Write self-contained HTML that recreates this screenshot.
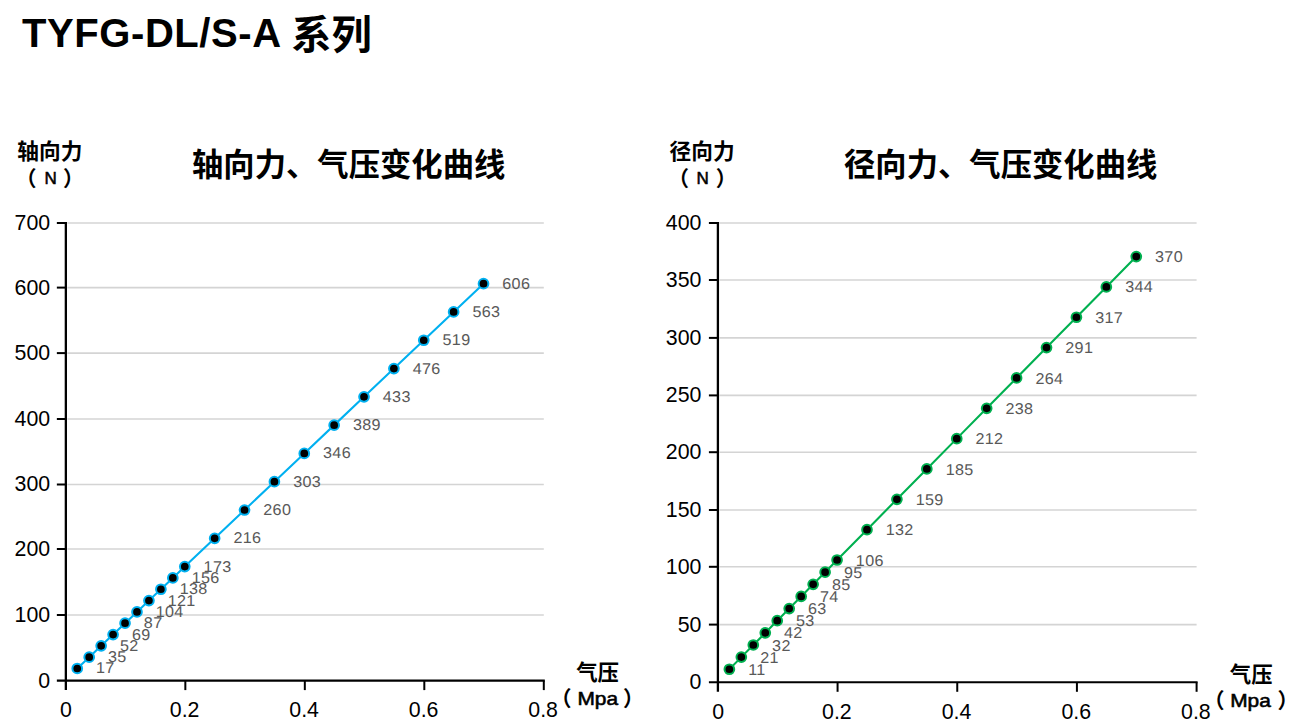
<!DOCTYPE html>
<html lang="zh-CN">
<head>
<meta charset="utf-8">
<title>TYFG-DL/S-A 系列</title>
<style>
html,body{margin:0;padding:0;background:#fff;}
body{width:1305px;height:727px;overflow:hidden;font-family:"Liberation Sans", "Noto Sans CJK SC", sans-serif;}
svg{display:block;}
svg text{font-family:"Liberation Sans", "Noto Sans CJK SC", sans-serif;}
.h1{font-size:40px;font-weight:bold;fill:#000;}
.ct{font-size:31.34px;font-weight:bold;fill:#000;}
.at{font-size:21px;font-weight:bold;fill:#000;}
.au{font-size:17px;font-weight:normal;fill:#000;stroke:#000;stroke-width:0.55px;}
.au2{font-size:17.8px;font-weight:normal;fill:#000;stroke:#000;stroke-width:0.55px;}
.tk{font-size:21.33px;fill:#000;}
.dl{font-size:15.6px;fill:#595959;letter-spacing:0.3px;text-rendering:geometricPrecision;}
</style>
</head>
<body>
<svg width="1305" height="727" viewBox="0 0 1305 727">
<rect width="1305" height="727" fill="#fff"/>

<text class="h1" x="22" y="46.6"><tspan letter-spacing="0.58">TYFG-DL/S-A</tspan> <tspan x="291.2" dy="2.2" font-size="40.2">系列</tspan></text>
<g id="chart-left">
<text class="ct" x="192" y="176">轴向力、气压变化曲线</text>
<text class="at" style="font-size:21.7px" x="17.3" y="159.2">轴向力</text>
<text class="at" y="186.3"><tspan x="15.6">（</tspan><tspan class="au" x="44.6" dy="-2.1">N</tspan><tspan x="62.9" dy="2.1">）</tspan></text>
<line x1="67.35" y1="615.00" x2="543.80" y2="615.00" stroke="#d4d4d4" stroke-width="1.6"/>
<line x1="67.35" y1="549.00" x2="543.80" y2="549.00" stroke="#d4d4d4" stroke-width="1.6"/>
<line x1="67.35" y1="484.50" x2="543.80" y2="484.50" stroke="#d4d4d4" stroke-width="1.6"/>
<line x1="67.35" y1="419.00" x2="543.80" y2="419.00" stroke="#d4d4d4" stroke-width="1.6"/>
<line x1="67.35" y1="353.10" x2="543.80" y2="353.10" stroke="#d4d4d4" stroke-width="1.6"/>
<line x1="67.35" y1="287.60" x2="543.80" y2="287.60" stroke="#d4d4d4" stroke-width="1.6"/>
<line x1="67.35" y1="223.00" x2="543.80" y2="223.00" stroke="#d4d4d4" stroke-width="1.6"/>
<polyline fill="none" stroke="#00b0f0" stroke-width="2.1" stroke-linejoin="round" points="77.25,668.48 89.20,657.16 101.15,645.84 113.09,634.53 125.04,623.21 136.99,611.89 148.94,600.57 160.89,589.25 172.84,577.93 184.79,566.61 214.66,538.32 244.53,510.02 274.40,481.72 304.27,453.43 334.15,425.13 364.02,396.84 393.89,368.54 423.76,340.24 453.63,311.95 483.51,283.65"/>
<circle cx="77.25" cy="668.48" r="4.85" fill="#000" stroke="#00b0f0" stroke-width="2"/>
<circle cx="89.20" cy="657.16" r="4.85" fill="#000" stroke="#00b0f0" stroke-width="2"/>
<circle cx="101.15" cy="645.84" r="4.85" fill="#000" stroke="#00b0f0" stroke-width="2"/>
<circle cx="113.09" cy="634.53" r="4.85" fill="#000" stroke="#00b0f0" stroke-width="2"/>
<circle cx="125.04" cy="623.21" r="4.85" fill="#000" stroke="#00b0f0" stroke-width="2"/>
<circle cx="136.99" cy="611.89" r="4.85" fill="#000" stroke="#00b0f0" stroke-width="2"/>
<circle cx="148.94" cy="600.57" r="4.85" fill="#000" stroke="#00b0f0" stroke-width="2"/>
<circle cx="160.89" cy="589.25" r="4.85" fill="#000" stroke="#00b0f0" stroke-width="2"/>
<circle cx="172.84" cy="577.93" r="4.85" fill="#000" stroke="#00b0f0" stroke-width="2"/>
<circle cx="184.79" cy="566.61" r="4.85" fill="#000" stroke="#00b0f0" stroke-width="2"/>
<circle cx="214.66" cy="538.32" r="4.85" fill="#000" stroke="#00b0f0" stroke-width="2"/>
<circle cx="244.53" cy="510.02" r="4.85" fill="#000" stroke="#00b0f0" stroke-width="2"/>
<circle cx="274.40" cy="481.72" r="4.85" fill="#000" stroke="#00b0f0" stroke-width="2"/>
<circle cx="304.27" cy="453.43" r="4.85" fill="#000" stroke="#00b0f0" stroke-width="2"/>
<circle cx="334.15" cy="425.13" r="4.85" fill="#000" stroke="#00b0f0" stroke-width="2"/>
<circle cx="364.02" cy="396.84" r="4.85" fill="#000" stroke="#00b0f0" stroke-width="2"/>
<circle cx="393.89" cy="368.54" r="4.85" fill="#000" stroke="#00b0f0" stroke-width="2"/>
<circle cx="423.76" cy="340.24" r="4.85" fill="#000" stroke="#00b0f0" stroke-width="2"/>
<circle cx="453.63" cy="311.95" r="4.85" fill="#000" stroke="#00b0f0" stroke-width="2"/>
<circle cx="483.51" cy="283.65" r="4.85" fill="#000" stroke="#00b0f0" stroke-width="2"/>
<line x1="65.85" y1="221.90" x2="65.85" y2="690.10" stroke="#000" stroke-width="2.3"/>
<line x1="56.85" y1="680.60" x2="544.80" y2="680.60" stroke="#000" stroke-width="2.1"/>
<line x1="56.85" y1="615.00" x2="65.85" y2="615.00" stroke="#000" stroke-width="2.0"/>
<line x1="56.85" y1="549.00" x2="65.85" y2="549.00" stroke="#000" stroke-width="2.0"/>
<line x1="56.85" y1="484.50" x2="65.85" y2="484.50" stroke="#000" stroke-width="2.0"/>
<line x1="56.85" y1="419.00" x2="65.85" y2="419.00" stroke="#000" stroke-width="2.0"/>
<line x1="56.85" y1="353.10" x2="65.85" y2="353.10" stroke="#000" stroke-width="2.0"/>
<line x1="56.85" y1="287.60" x2="65.85" y2="287.60" stroke="#000" stroke-width="2.0"/>
<line x1="56.85" y1="223.00" x2="65.85" y2="223.00" stroke="#000" stroke-width="2.0"/>
<line x1="185.34" y1="680.60" x2="185.34" y2="690.10" stroke="#000" stroke-width="2.0"/>
<line x1="304.82" y1="680.60" x2="304.82" y2="690.10" stroke="#000" stroke-width="2.0"/>
<line x1="424.31" y1="680.60" x2="424.31" y2="690.10" stroke="#000" stroke-width="2.0"/>
<line x1="543.80" y1="680.60" x2="543.80" y2="690.10" stroke="#000" stroke-width="2.0"/>
<text class="tk" text-anchor="end" x="50.20" y="687.50">0</text>
<text class="tk" text-anchor="end" x="50.20" y="621.90">100</text>
<text class="tk" text-anchor="end" x="50.20" y="555.90">200</text>
<text class="tk" text-anchor="end" x="50.20" y="491.40">300</text>
<text class="tk" text-anchor="end" x="50.20" y="425.90">400</text>
<text class="tk" text-anchor="end" x="50.20" y="360.00">500</text>
<text class="tk" text-anchor="end" x="50.20" y="294.50">600</text>
<text class="tk" text-anchor="end" x="50.20" y="229.90">700</text>
<text class="tk" text-anchor="middle" x="66.05" y="716.60">0</text>
<text class="tk" text-anchor="middle" x="184.64" y="716.60">0.2</text>
<text class="tk" text-anchor="middle" x="304.12" y="716.60">0.4</text>
<text class="tk" text-anchor="middle" x="423.61" y="716.60">0.6</text>
<text class="tk" text-anchor="middle" x="543.10" y="716.60">0.8</text>
<text class="dl" transform="translate(96.05,673.48) scale(1.035,1)">17</text>
<text class="dl" transform="translate(108.00,662.16) scale(1.035,1)">35</text>
<text class="dl" transform="translate(119.95,650.84) scale(1.035,1)">52</text>
<text class="dl" transform="translate(131.89,639.53) scale(1.035,1)">69</text>
<text class="dl" transform="translate(143.84,628.21) scale(1.035,1)">87</text>
<text class="dl" transform="translate(155.79,616.89) scale(1.035,1)">104</text>
<text class="dl" transform="translate(167.74,605.57) scale(1.035,1)">121</text>
<text class="dl" transform="translate(179.69,594.25) scale(1.035,1)">138</text>
<text class="dl" transform="translate(191.64,582.93) scale(1.035,1)">156</text>
<text class="dl" transform="translate(203.59,571.61) scale(1.035,1)">173</text>
<text class="dl" transform="translate(233.46,543.32) scale(1.035,1)">216</text>
<text class="dl" transform="translate(263.33,515.02) scale(1.035,1)">260</text>
<text class="dl" transform="translate(293.20,486.72) scale(1.035,1)">303</text>
<text class="dl" transform="translate(323.07,458.43) scale(1.035,1)">346</text>
<text class="dl" transform="translate(352.95,430.13) scale(1.035,1)">389</text>
<text class="dl" transform="translate(382.82,401.84) scale(1.035,1)">433</text>
<text class="dl" transform="translate(412.69,373.54) scale(1.035,1)">476</text>
<text class="dl" transform="translate(442.56,345.24) scale(1.035,1)">519</text>
<text class="dl" transform="translate(472.43,316.95) scale(1.035,1)">563</text>
<text class="dl" transform="translate(502.31,288.65) scale(1.035,1)">606</text>
<text class="at" style="font-size:21.4px" x="576.2" y="680.3">气压</text>
<text class="at" y="705.7"><tspan x="550.5">（</tspan><tspan class="au2" x="577.4" dy="-0.7" textLength="40.6" lengthAdjust="spacingAndGlyphs">Mpa</tspan><tspan x="623.0" dy="0.7">）</tspan></text>
</g>
<g id="chart-right">
<text class="ct" x="844" y="176">径向力、气压变化曲线</text>
<text class="at" style="font-size:21.7px" x="669.5" y="159.2">径向力</text>
<text class="at" y="186.3"><tspan x="668.1">（</tspan><tspan class="au" x="696.6" dy="-2.1">N</tspan><tspan x="715.7" dy="2.1">）</tspan></text>
<line x1="719.40" y1="624.60" x2="1196.60" y2="624.60" stroke="#d4d4d4" stroke-width="1.6"/>
<line x1="719.40" y1="566.80" x2="1196.60" y2="566.80" stroke="#d4d4d4" stroke-width="1.6"/>
<line x1="719.40" y1="510.00" x2="1196.60" y2="510.00" stroke="#d4d4d4" stroke-width="1.6"/>
<line x1="719.40" y1="452.20" x2="1196.60" y2="452.20" stroke="#d4d4d4" stroke-width="1.6"/>
<line x1="719.40" y1="395.40" x2="1196.60" y2="395.40" stroke="#d4d4d4" stroke-width="1.6"/>
<line x1="719.40" y1="337.90" x2="1196.60" y2="337.90" stroke="#d4d4d4" stroke-width="1.6"/>
<line x1="719.40" y1="280.00" x2="1196.60" y2="280.00" stroke="#d4d4d4" stroke-width="1.6"/>
<line x1="719.40" y1="223.00" x2="1196.60" y2="223.00" stroke="#d4d4d4" stroke-width="1.6"/>
<polyline fill="none" stroke="#00b050" stroke-width="2.1" stroke-linejoin="round" points="729.37,669.26 741.33,657.12 753.30,644.98 765.27,632.85 777.24,620.71 789.20,608.57 801.17,596.43 813.14,584.29 825.11,572.15 837.07,560.01 866.99,529.67 896.91,499.32 926.83,468.97 956.75,438.63 986.67,408.28 1016.59,377.93 1046.51,347.59 1076.42,317.24 1106.34,286.89 1136.26,256.55"/>
<circle cx="729.37" cy="669.26" r="4.85" fill="#000" stroke="#00b050" stroke-width="2"/>
<circle cx="741.33" cy="657.12" r="4.85" fill="#000" stroke="#00b050" stroke-width="2"/>
<circle cx="753.30" cy="644.98" r="4.85" fill="#000" stroke="#00b050" stroke-width="2"/>
<circle cx="765.27" cy="632.85" r="4.85" fill="#000" stroke="#00b050" stroke-width="2"/>
<circle cx="777.24" cy="620.71" r="4.85" fill="#000" stroke="#00b050" stroke-width="2"/>
<circle cx="789.20" cy="608.57" r="4.85" fill="#000" stroke="#00b050" stroke-width="2"/>
<circle cx="801.17" cy="596.43" r="4.85" fill="#000" stroke="#00b050" stroke-width="2"/>
<circle cx="813.14" cy="584.29" r="4.85" fill="#000" stroke="#00b050" stroke-width="2"/>
<circle cx="825.11" cy="572.15" r="4.85" fill="#000" stroke="#00b050" stroke-width="2"/>
<circle cx="837.07" cy="560.01" r="4.85" fill="#000" stroke="#00b050" stroke-width="2"/>
<circle cx="866.99" cy="529.67" r="4.85" fill="#000" stroke="#00b050" stroke-width="2"/>
<circle cx="896.91" cy="499.32" r="4.85" fill="#000" stroke="#00b050" stroke-width="2"/>
<circle cx="926.83" cy="468.97" r="4.85" fill="#000" stroke="#00b050" stroke-width="2"/>
<circle cx="956.75" cy="438.63" r="4.85" fill="#000" stroke="#00b050" stroke-width="2"/>
<circle cx="986.67" cy="408.28" r="4.85" fill="#000" stroke="#00b050" stroke-width="2"/>
<circle cx="1016.59" cy="377.93" r="4.85" fill="#000" stroke="#00b050" stroke-width="2"/>
<circle cx="1046.51" cy="347.59" r="4.85" fill="#000" stroke="#00b050" stroke-width="2"/>
<circle cx="1076.42" cy="317.24" r="4.85" fill="#000" stroke="#00b050" stroke-width="2"/>
<circle cx="1106.34" cy="286.89" r="4.85" fill="#000" stroke="#00b050" stroke-width="2"/>
<circle cx="1136.26" cy="256.55" r="4.85" fill="#000" stroke="#00b050" stroke-width="2"/>
<line x1="717.90" y1="221.90" x2="717.90" y2="691.80" stroke="#000" stroke-width="2.3"/>
<line x1="708.90" y1="682.30" x2="1197.60" y2="682.30" stroke="#000" stroke-width="2.1"/>
<line x1="708.90" y1="624.60" x2="717.90" y2="624.60" stroke="#000" stroke-width="2.0"/>
<line x1="708.90" y1="566.80" x2="717.90" y2="566.80" stroke="#000" stroke-width="2.0"/>
<line x1="708.90" y1="510.00" x2="717.90" y2="510.00" stroke="#000" stroke-width="2.0"/>
<line x1="708.90" y1="452.20" x2="717.90" y2="452.20" stroke="#000" stroke-width="2.0"/>
<line x1="708.90" y1="395.40" x2="717.90" y2="395.40" stroke="#000" stroke-width="2.0"/>
<line x1="708.90" y1="337.90" x2="717.90" y2="337.90" stroke="#000" stroke-width="2.0"/>
<line x1="708.90" y1="280.00" x2="717.90" y2="280.00" stroke="#000" stroke-width="2.0"/>
<line x1="708.90" y1="223.00" x2="717.90" y2="223.00" stroke="#000" stroke-width="2.0"/>
<line x1="837.57" y1="682.30" x2="837.57" y2="691.80" stroke="#000" stroke-width="2.0"/>
<line x1="957.25" y1="682.30" x2="957.25" y2="691.80" stroke="#000" stroke-width="2.0"/>
<line x1="1076.92" y1="682.30" x2="1076.92" y2="691.80" stroke="#000" stroke-width="2.0"/>
<line x1="1196.60" y1="682.30" x2="1196.60" y2="691.80" stroke="#000" stroke-width="2.0"/>
<text class="tk" text-anchor="end" x="701.40" y="689.20">0</text>
<text class="tk" text-anchor="end" x="701.40" y="631.50">50</text>
<text class="tk" text-anchor="end" x="701.40" y="573.70">100</text>
<text class="tk" text-anchor="end" x="701.40" y="516.90">150</text>
<text class="tk" text-anchor="end" x="701.40" y="459.10">200</text>
<text class="tk" text-anchor="end" x="701.40" y="402.30">250</text>
<text class="tk" text-anchor="end" x="701.40" y="344.80">300</text>
<text class="tk" text-anchor="end" x="701.40" y="286.90">350</text>
<text class="tk" text-anchor="end" x="701.40" y="229.90">400</text>
<text class="tk" text-anchor="middle" x="718.10" y="719.00">0</text>
<text class="tk" text-anchor="middle" x="836.87" y="719.00">0.2</text>
<text class="tk" text-anchor="middle" x="956.55" y="719.00">0.4</text>
<text class="tk" text-anchor="middle" x="1076.22" y="719.00">0.6</text>
<text class="tk" text-anchor="middle" x="1195.90" y="719.00">0.8</text>
<text class="dl" transform="translate(748.17,674.86) scale(1.035,1)">11</text>
<text class="dl" transform="translate(760.13,662.72) scale(1.035,1)">21</text>
<text class="dl" transform="translate(772.10,650.58) scale(1.035,1)">32</text>
<text class="dl" transform="translate(784.07,638.45) scale(1.035,1)">42</text>
<text class="dl" transform="translate(796.04,626.31) scale(1.035,1)">53</text>
<text class="dl" transform="translate(808.00,614.17) scale(1.035,1)">63</text>
<text class="dl" transform="translate(819.97,602.03) scale(1.035,1)">74</text>
<text class="dl" transform="translate(831.94,589.89) scale(1.035,1)">85</text>
<text class="dl" transform="translate(843.91,577.75) scale(1.035,1)">95</text>
<text class="dl" transform="translate(855.87,565.61) scale(1.035,1)">106</text>
<text class="dl" transform="translate(885.79,535.27) scale(1.035,1)">132</text>
<text class="dl" transform="translate(915.71,504.92) scale(1.035,1)">159</text>
<text class="dl" transform="translate(945.63,474.57) scale(1.035,1)">185</text>
<text class="dl" transform="translate(975.55,444.23) scale(1.035,1)">212</text>
<text class="dl" transform="translate(1005.47,413.88) scale(1.035,1)">238</text>
<text class="dl" transform="translate(1035.39,383.53) scale(1.035,1)">264</text>
<text class="dl" transform="translate(1065.31,353.19) scale(1.035,1)">291</text>
<text class="dl" transform="translate(1095.22,322.84) scale(1.035,1)">317</text>
<text class="dl" transform="translate(1125.14,292.49) scale(1.035,1)">344</text>
<text class="dl" transform="translate(1155.06,262.15) scale(1.035,1)">370</text>
<text class="at" style="font-size:21.4px" x="1229.8" y="682.0">气压</text>
<text class="at" y="707.7"><tspan x="1203.5">（</tspan><tspan class="au2" x="1230.2" dy="-0.7" textLength="40.6" lengthAdjust="spacingAndGlyphs">Mpa</tspan><tspan x="1277.4" dy="0.7">）</tspan></text>
</g>
</svg>
</body>
</html>
